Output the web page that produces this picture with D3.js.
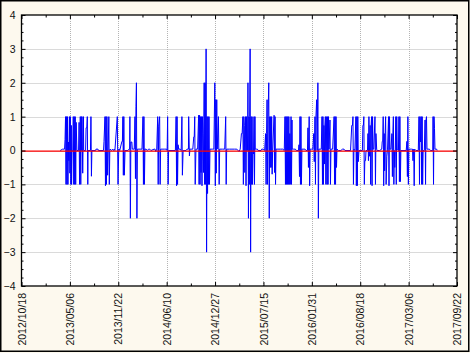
<!DOCTYPE html>
<html lang="en">
<head>
<meta charset="utf-8">
<title>Daily series</title>
<script src="https://d3js.org/d3.v7.min.js"></script>
<style>
    body { margin: 0; background: #fdf9ee; }
    .tick text { font-family: Arial, "Liberation Sans", sans-serif; font-size: 10.5px; fill: #111; }
    .grid line { stroke: #b4b4b4; stroke-dasharray: 1,1; }
</style>
</head>
<body>
<script>
// tick labels
const xTickLabels = ["2012/10/18", "2013/05/06", "2013/11/22", "2014/06/10", "2014/12/27",
                     "2015/07/15", "2016/01/31", "2016/08/18", "2017/03/06", "2017/09/22"];
const yTicks = [4, 3, 2, 1, 0, -1, -2, -3, -4];

// series: [day since 2012/10/18, value]
const points = [
  [160,0],[170,0.04],[178,0.04],[180,0.33],
  [182,1],[184,-1],[186,1],[188,-1],[190,1],[192,-1],[194,0.25],[196,-0.3],
  [198,1],[200,-0.67],[202,1],[204,-1],[206,0.74],[207,-1],[209,0],[212,0],
  [214,1],[216,-1],[218,1],[220,-1],[222,1],[224,-1],[226,0.83],[229,0],[236,0],
  [238,0.83],[240,-1],[243,1],[245,-1],[247,1],[248,0],
  [250,1],[253,-0.67],[256,1],[257,0],[265,0],[267,0.67],[270,0.67],
  [272,1],[274,-1],[275,0],[285,0],[287,1],[289,-0.76],[291,0],
  [306,0],[308,0.04],[316,0.04],[318,0],[339,0],[341,0.27],
  [345,1],[347,-1.04],[349,1],[351,-1],[353,1],[356,-0.73],[358,0],
  [361,1],[363,-1],[365,0],[366,0.04],[372,0],[376,0.04],[380,0],[383,0.04],[386,0],
  [396,1],[399,-1],[402,0.04],[404,0.04],[406,0],[415,0.27],[417,0.27],
  [419,1],[421,-0.73],[423,1],[425,-0.73],[428,0],[440,0],[444,0.04],[447,0.04],
  [448,1],[450,-2],[452,0.25],[456,0.25],[458,0.04],[466,0.04],
  [469,1],[471,-0.83],[473,1.29],[475,2],[477,-2],[479,0.04],[490,0.04],[498,0.04],
  [502,1],[504,-1],[506,1],[508,-1],[510,0.04],[515,0.04],[520,0],[525,0.04],[530,0.04],[535,0],
  [548,0.04],[552,0.04],[555,-0.03],[559,0.04],
  [563,1],[565,-1],[567,0.72],[571,1],[573,-1],[575,0.04],[590,0.04],[600,0.04],[602,0],
  [604,1],[606,-1],[608,0],[636,0],
  [639,1],[641,-1.04],[643,1],[645,-1],[647,0.17],[650,0.04],[656,0.04],[660,0],
  [663,1],[665,-0.73],[668,0],[680,0],[684,0.04],[690,0.04],
  [691,1],[694,-0.16],[696,0.04],[700,0.04],[708,0.04],[712,0.4],[714,0.4],
  [716,1],[718,-1],[721,0.04],[728,0.04],
  [732,1.04],[734,-1],[736,1.04],[738,-1],[740,1],[742,-0.65],[744,1],[746,-1.04],[748,1],
  [750,0.5],[752,-0.65],[755,2],[757,-1],[759,2],[761,-1],[763,3],[765,-3],
  [767,1],[769,-1.27],[771,1],[773,-1],[775,1],[777,-1],[779,0.04],[790,0.04],[795,0.04],
  [799,2],[801,-1.04],[803,1.5],[805,-0.67],[807,1.5],[809,0.04],
  [814,1],[817,-1],[819,0.04],[830,0.04],[840,0.04],
  [844,1],[846,-1],[848,0.04],[860,0.04],[870,0.04],[880,0.04],[890,0.04],[899,-0.03],[904,0.04],
  [909,0.5],[912,0.5],[915,1],[917,-1],[919,1],[921,0.74],[923,-0.65],
  [926,1],[928,-1.04],[930,1],[931,0],[934,0],[936,2],[938,-2],[940,1],[942,-1],[943,1],
  [945,3],[947,-3],[949,1],[951,-1],[953,1],[955,-1],[957,0],[959,-0.1],
  [961,1],[963,-1],[965,1],[966,0.04],[970,0.04],[975,0.04],[978,0],
  [990,0],[993,0.04],[1000,0.04],[1005,0],
  [1009,0.5],[1011,-1],[1013,0.5],[1015,1.5],[1017,-1],[1019,1],
  [1022,2],[1024,-2],[1026,1],[1028,-0.5],[1030,1],[1032,-0.5],[1034,1],[1036,-0.7],[1038,0],
  [1044,1.04],[1046,-0.65],[1048,1],[1050,-1],[1052,0.04],[1060,0.04],[1070,0.04],[1080,0.04],[1086,0],
  [1089,1],[1091,-1],[1093,1],[1095,-1],[1097,1],[1099,-1],[1101,1],[1103,-1],[1105,1],
  [1107,-1],[1109,0.5],[1111,-1],[1114,1],[1116,-1],[1118,0.9],[1119,0.04],
  [1125,0.04],[1132,0.04],[1136,0],[1145,0],
  [1147,0.17],[1149,-0.77],[1151,1],[1153,-1],[1155,1],[1157,-1],[1159,0.04],
  [1163,0.04],[1168,0.04],[1172,0.04],[1176,0],[1182,0],
  [1184,0.67],[1186,-0.5],[1189,1],[1191,-1.04],[1193,0.04],[1198,0.04],[1204,0.04],
  [1208,0.5],[1210,-0.33],[1213,1],[1215,-1],[1217,1],[1220,1.5],[1222,0],
  [1225,2],[1227,-2],[1229,0.04],[1234,0.04],[1239,0.04],
  [1242,1],[1244,-1],[1246,1],[1248,-1],[1250,0.74],[1252,-0.4],[1254,0.74],
  [1256,1],[1258,-1],[1260,1],[1263,-1],[1265,1],[1267,-1],[1269,1],[1271,0.04],
  [1275,0.9],[1277,-1],[1279,0.04],[1286,0.04],
  [1292,1],[1294,-1],[1296,1],[1298,-1],[1300,1],[1302,-0.5],[1304,0.04],
  [1310,0],[1320,0],[1327,0.04],[1333,0.04],[1337,0],[1360,0],
  [1365,0.74],[1368,0.74],[1370,1],[1372,-1],[1374,0.04],[1378,0],
  [1382,1],[1384,-1.04],[1386,1],[1388,-1.04],[1390,1],[1392,-0.33],[1395,0],[1409,0],
  [1411,0.74],[1413,0.74],[1415,1],[1417,-1],[1419,-0.3],[1422,-0.3],[1424,0],[1430,0],
  [1432,0.5],[1434,-0.3],[1436,1],[1438,-0.17],[1441,0.74],[1443,-1],[1445,0.74],
  [1447,1],[1449,-1.04],[1451,1],[1453,0.04],[1456,0.04],
  [1461,1],[1463,-1],[1465,0.5],[1468,0.04],[1470,0],[1480,0],
  [1489,0.04],[1491,0.27],[1493,0.27],[1495,1],[1497,-1.04],[1499,0.5],[1501,-0.6],[1503,0.5],
  [1505,1],[1507,-1],[1510,-0.17],[1513,0.04],
  [1517,1],[1519,-1.04],[1521,1],[1523,0.04],[1527,0.04],
  [1531,0.5],[1533,-0.77],[1535,0.5],[1537,1],[1539,-1],[1541,0],[1543,-0.5],[1545,0],
  [1547,1],[1549,-1],[1551,1],[1553,0.04],[1558,0],
  [1560,1],[1562,-0.92],[1564,1],[1566,-0.92],[1568,0],[1590,0],
  [1593,0.27],[1595,-0.77],[1597,1],[1599,-1],[1601,0.04],[1606,0.04],[1612,0.04],[1616,0.04],
  [1618,-0.3],[1621,0.04],[1623,-1.04],[1625,0.04],[1630,0],[1640,0],
  [1643,1],[1645,-1],[1647,1],[1649,0.25],[1652,1],[1654,-1],[1656,1],[1658,-1],[1660,0],[1665,0],
  [1668,0.9],[1670,-1],[1672,0.9],[1674,1],[1676,0.04],[1680,0.04],[1686,0.04],[1690,0],
  [1700,0],[1701,1],[1703,-1],[1705,1],[1707,0.65],[1709,0.04],[1716,0.04],[1718,0]
];

const W = 470, H = 353;
const plotL = 21.5, plotR = 457, plotT = 15, plotB = 286;

const parse = d3.timeParse("%Y/%m/%d");
const dayZero = parse(xTickLabels[0]);
const xTicks = xTickLabels.map(parse);
// minor ticks halfway between labelled dates
const xMinor = xTicks.slice(0, -1).map((d, i) => new Date((+d + +xTicks[i + 1]) / 2));
const yMinor = d3.range(-4, 4.01, 0.25).filter(v => !yTicks.includes(v));

const x = d3.scaleTime()
    .domain([xTicks[0], xTicks[xTicks.length - 1]])
    .range([plotL, plotR]);
const y = d3.scaleLinear()
    .domain([-4, 4])
    .range([plotB, plotT]);

const svg = d3.select("body").append("svg")
    .attr("width", W)
    .attr("height", H);

// outer frame
svg.append("rect")
    .attr("x", 0.75).attr("y", 0.75)
    .attr("width", W - 2).attr("height", H - 2.5)
    .attr("fill", "#fdf9ee")
    .attr("stroke", "#000")
    .attr("stroke-width", 1.5);

// plot area
svg.append("rect")
    .attr("x", plotL).attr("y", plotT)
    .attr("width", plotR - plotL).attr("height", plotB - plotT)
    .attr("fill", "#fff");

// grid lines
svg.append("g")
    .attr("class", "grid")
    .selectAll("line")
    .data(xTicks.slice(1, -1))
    .join("line")
    .attr("x1", d => Math.round(x(d)) + 0.5).attr("x2", d => Math.round(x(d)) + 0.5)
    .attr("y1", plotT).attr("y2", plotB);
svg.append("g")
    .attr("class", "grid")
    .selectAll("line")
    .data(yTicks.filter(v => v > -4 && v < 4))
    .join("line")
    .attr("x1", plotL).attr("x2", plotR)
    .attr("y1", d => Math.round(y(d)) + 0.5).attr("y2", d => Math.round(y(d)) + 0.5);

// series
const line = d3.line()
    .x(d => x(d3.timeDay.offset(dayZero, d[0])))
    .y(d => y(d[1]));
svg.append("path")
    .datum(points)
    .attr("d", line)
    .attr("fill", "none")
    .attr("stroke", "#0000ff")
    .attr("stroke-width", 1);

// zero line
svg.append("line")
    .attr("x1", plotL).attr("x2", plotR)
    .attr("y1", y(0) + 0.6).attr("y2", y(0) + 0.6)
    .attr("stroke", "#ff0000")
    .attr("stroke-width", 1.4);

// axes, ticks pointing inward
const fmt = d3.timeFormat("%Y/%m/%d");
const bottomAxis = d3.axisBottom(x).tickValues(xTicks).tickFormat(fmt).tickSize(-4).tickPadding(7);
const gx = svg.append("g")
    .attr("transform", "translate(0," + plotB + ")")
    .call(bottomAxis);
gx.selectAll("text")
    .attr("transform", "rotate(-90)")
    .attr("x", -7)
    .attr("y", 0)
    .attr("dy", "0.35em")
    .style("text-anchor", "end");
svg.append("g")
    .attr("transform", "translate(0," + plotB + ")")
    .call(d3.axisBottom(x).tickValues(xMinor).tickFormat("").tickSize(-2.5));
svg.append("g")
    .attr("transform", "translate(0," + plotT + ")")
    .call(d3.axisTop(x).tickValues(xTicks).tickFormat("").tickSize(-4));
svg.append("g")
    .attr("transform", "translate(0," + plotT + ")")
    .call(d3.axisTop(x).tickValues(xMinor).tickFormat("").tickSize(-2.5));

svg.append("g")
    .attr("transform", "translate(" + plotL + ",0)")
    .call(d3.axisLeft(y).tickValues(yTicks).tickSize(-4).tickPadding(6));
svg.append("g")
    .attr("transform", "translate(" + plotL + ",0)")
    .call(d3.axisLeft(y).tickValues(yMinor).tickFormat("").tickSize(-2));
svg.append("g")
    .attr("transform", "translate(" + plotR + ",0)")
    .call(d3.axisRight(y).tickValues(yTicks).tickFormat("").tickSize(-4));
svg.append("g")
    .attr("transform", "translate(" + plotR + ",0)")
    .call(d3.axisRight(y).tickValues(yMinor).tickFormat("").tickSize(-2));

svg.selectAll(".domain").remove();
svg.selectAll(".tick line").attr("stroke", "#000");

// plot frame
svg.append("rect")
    .attr("x", plotL).attr("y", plotT)
    .attr("width", plotR - plotL).attr("height", plotB - plotT)
    .attr("fill", "none")
    .attr("stroke", "#000")
    .attr("stroke-width", 1.3);
</script>
</body>
</html>
